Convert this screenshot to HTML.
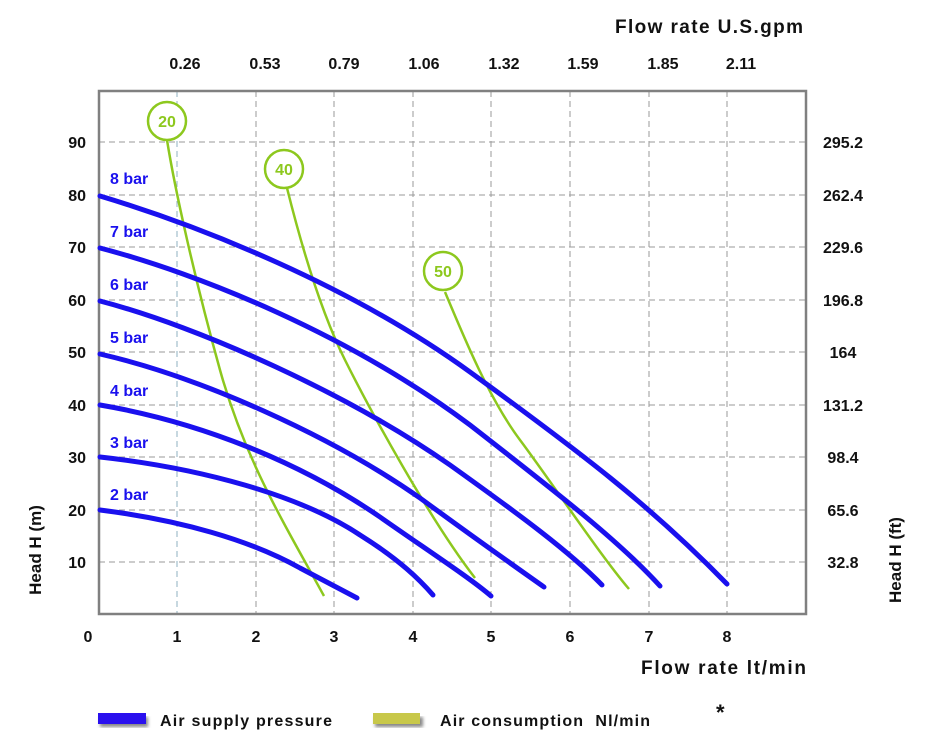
<!DOCTYPE html>
<html><head><meta charset="utf-8"><style>
body{margin:0;background:#fff}
svg text{font-family:"Liberation Sans",Arial,sans-serif;font-weight:bold}
</style></head><body>
<svg width="930" height="741" viewBox="0 0 930 741" xmlns="http://www.w3.org/2000/svg">
<defs><filter id="sh"><feGaussianBlur stdDeviation="1.5"/></filter></defs>
<g stroke="#9a9a9a" stroke-width="1" stroke-dasharray="6,4" fill="none">
<line x1="99" y1="142" x2="806" y2="142"/><line x1="99" y1="195" x2="806" y2="195"/>
<line x1="99" y1="247" x2="806" y2="247"/><line x1="99" y1="300" x2="806" y2="300"/>
<line x1="99" y1="352" x2="806" y2="352"/><line x1="99" y1="405" x2="806" y2="405"/>
<line x1="99" y1="457" x2="806" y2="457"/><line x1="99" y1="510" x2="806" y2="510"/>
<line x1="99" y1="562" x2="806" y2="562"/>
<line x1="177" y1="91" x2="177" y2="614" stroke="#8fb0c0"/><line x1="256" y1="91" x2="256" y2="614"/>
<line x1="334" y1="91" x2="334" y2="614"/><line x1="413" y1="91" x2="413" y2="614"/>
<line x1="491" y1="91" x2="491" y2="614"/><line x1="570" y1="91" x2="570" y2="614"/>
<line x1="649" y1="91" x2="649" y2="614"/><line x1="727" y1="91" x2="727" y2="614"/>
</g>
<rect x="99" y="91" width="707" height="523" fill="none" stroke="#808080" stroke-width="2.5"/>
<g fill="none" stroke="#8dc81e" stroke-width="2.5">
<path d="M167,140 C175,190 195,280 220,370 S285,525 324,596"/>
<circle cx="167" cy="121" r="19" fill="#fff"/>
<path d="M287,188 C300,240 320,310 345,360 S430,520 475,578"/>
<circle cx="284" cy="169" r="19" fill="#fff"/>
<path d="M445,292 C465,340 490,400 520,440 S600,555 629,589"/>
<circle cx="443" cy="271" r="19" fill="#fff"/>
</g>
<g fill="#8dc81e" font-size="16" text-anchor="middle">
<text x="167" y="127">20</text><text x="284" y="175">40</text><text x="443" y="277">50</text>
</g>
<g fill="none" stroke="#1a10ee" stroke-width="5" stroke-linecap="round">
<path d="M100,510 C180,520 250,540 300,568 L357,598"/>
<path d="M100,457 C200,468 300,495 360,535 C400,560 420,580 433,595"/>
<path d="M100,405 C200,422 300,462 380,517 C430,552 470,578 491,596"/>
<path d="M100,354 C200,377 330,435 420,498 C480,542 520,570 544,587"/>
<path d="M100,301 C200,327 350,395 450,465 C520,515 570,552 602,585"/>
<path d="M100,248 C200,274 350,335 470,425 C560,495 620,542 660,586"/>
<path d="M100,196 C200,226 350,285 470,372 C580,452 650,505 727,584"/>
</g>
<g fill="#1a10ee" font-size="16">
<text x="110" y="184">8 bar</text><text x="110" y="237">7 bar</text><text x="110" y="290">6 bar</text>
<text x="110" y="343">5 bar</text><text x="110" y="396">4 bar</text><text x="110" y="448">3 bar</text>
<text x="110" y="500">2 bar</text>
</g>
<g fill="#111" font-size="16" text-anchor="end">
<text x="86" y="148">90</text><text x="86" y="201">80</text><text x="86" y="253">70</text>
<text x="86" y="306">60</text><text x="86" y="358">50</text><text x="86" y="411">40</text>
<text x="86" y="463">30</text><text x="86" y="516">20</text><text x="86" y="568">10</text>
</g>
<g fill="#111" font-size="16" text-anchor="middle">
<text x="843" y="148">295.2</text><text x="843" y="201">262.4</text><text x="843" y="253">229.6</text>
<text x="843" y="306">196.8</text><text x="843" y="358">164</text><text x="843" y="411">131.2</text>
<text x="843" y="463">98.4</text><text x="843" y="516">65.6</text><text x="843" y="568">32.8</text>
<text x="88" y="642">0</text><text x="177" y="642">1</text><text x="256" y="642">2</text>
<text x="334" y="642">3</text><text x="413" y="642">4</text><text x="491" y="642">5</text>
<text x="570" y="642">6</text><text x="649" y="642">7</text><text x="727" y="642">8</text>
<text x="185" y="69">0.26</text><text x="265" y="69">0.53</text><text x="344" y="69">0.79</text>
<text x="424" y="69">1.06</text><text x="504" y="69">1.32</text><text x="583" y="69">1.59</text>
<text x="663" y="69">1.85</text><text x="741" y="69">2.11</text>
</g>
<text x="615" y="33" font-size="19" fill="#111" textLength="188" lengthAdjust="spacing">Flow rate U.S.gpm</text>
<text x="641" y="674" font-size="19" fill="#111" textLength="165" lengthAdjust="spacing">Flow rate  lt/min</text>
<text transform="translate(41,550) rotate(-90)" text-anchor="middle" font-size="17" fill="#111">Head H (m)</text>
<text transform="translate(901,560) rotate(-90)" text-anchor="middle" font-size="17" fill="#111">Head H (ft)</text>
<rect x="100" y="717" width="48" height="10" fill="#888" filter="url(#sh)"/>
<rect x="98" y="713" width="48" height="11" fill="#2a10ee"/>
<rect x="375" y="717" width="48" height="10" fill="#888" filter="url(#sh)"/>
<rect x="373" y="713" width="47" height="11" fill="#c8c84a"/>
<text x="160" y="726" font-size="16" fill="#111" textLength="172">Air supply pressure</text>
<text x="440" y="726" font-size="16" fill="#111" textLength="210" xml:space="preserve">Air consumption  Nl/min</text>
<text x="716" y="720" font-size="22" fill="#111">*</text>
</svg>
</body></html>
